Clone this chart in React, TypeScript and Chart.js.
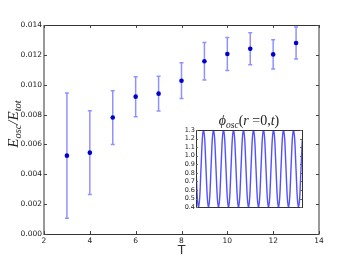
import React, { useEffect, useRef } from "react";
import { Chart, registerables } from "chart.js";
Chart.register(...registerables);

const T = [3, 4, 5, 6, 7, 8, 9, 10, 11, 12, 13];
const ratio = [0.00525, 0.00545, 0.0078, 0.0092, 0.0094, 0.01027, 0.01157, 0.01206, 0.01241, 0.01203, 0.01279];
const ratioErr = [0.0042, 0.0028, 0.0018, 0.00134, 0.00116, 0.0012, 0.00125, 0.0011, 0.00107, 0.00098, 0.00107];
const xTicks = [2, 4, 6, 8, 10, 12, 14];
const yTicks = [0, 0.002, 0.004, 0.006, 0.008, 0.01, 0.012, 0.014];

const phiT = [
  0, 0.125, 0.25, 0.375, 0.5, 0.625, 0.75, 0.875,
  1, 1.125, 1.25, 1.375, 1.5, 1.625, 1.75, 1.875,
  2, 2.125, 2.25, 2.375, 2.5, 2.625, 2.75, 2.875,
  3, 3.125, 3.25, 3.375, 3.5, 3.625, 3.75, 3.875,
  4, 4.125, 4.25, 4.375, 4.5, 4.625, 4.75, 4.875,
  5, 5.125, 5.25, 5.375, 5.5, 5.625, 5.75, 5.875,
  6, 6.125, 6.25, 6.375, 6.5, 6.625, 6.75, 6.875,
  7, 7.125, 7.25, 7.375, 7.5, 7.625, 7.75, 7.875,
  8, 8.125, 8.25, 8.375, 8.5, 8.625, 8.75, 8.875,
  9, 9.125, 9.25, 9.375, 9.5, 9.625, 9.75, 9.875,
  10, 10.125, 10.25, 10.375, 10.5, 10.625,
];
const phiV = [
  0.85, 0.52, 0.39, 0.52, 0.85, 1.18, 1.31, 1.18,
  0.85, 0.52, 0.39, 0.52, 0.85, 1.18, 1.31, 1.18,
  0.85, 0.52, 0.39, 0.52, 0.85, 1.18, 1.31, 1.18,
  0.85, 0.52, 0.39, 0.52, 0.85, 1.18, 1.31, 1.18,
  0.85, 0.52, 0.39, 0.52, 0.85, 1.18, 1.31, 1.18,
  0.85, 0.52, 0.39, 0.52, 0.85, 1.18, 1.31, 1.18,
  0.85, 0.52, 0.39, 0.52, 0.85, 1.18, 1.31, 1.18,
  0.85, 0.52, 0.39, 0.52, 0.85, 1.18, 1.31, 1.18,
  0.85, 0.52, 0.39, 0.52, 0.85, 1.18, 1.31, 1.18,
  0.85, 0.52, 0.39, 0.52, 0.85, 1.18, 1.31, 1.18,
  0.85, 0.52, 0.39, 0.52, 0.85, 1.18,
];
const insetTicks = [0.4, 0.5, 0.6, 0.7, 0.8, 0.9, 1.0, 1.1, 1.2, 1.3];

type Part = { t: string; size: number; italic?: boolean; dy?: number };
const SERIF = '"Liberation Serif", "DejaVu Serif", serif';

function drawParts(ctx: CanvasRenderingContext2D, parts: Part[], cx: number, baseline: number) {
  let total = 0;
  const widths = parts.map((p) => {
    ctx.font = `${p.italic ? "italic " : ""}${p.size}px ${SERIF}`;
    const w = ctx.measureText(p.t).width;
    total += w;
    return w;
  });
  let x = cx - total / 2;
  ctx.textAlign = "left";
  ctx.textBaseline = "alphabetic";
  parts.forEach((p, i) => {
    ctx.font = `${p.italic ? "italic " : ""}${p.size}px ${SERIF}`;
    ctx.fillText(p.t, x, baseline + (p.dy || 0));
    x += widths[i];
  });
}

const mainPlugin = {
  id: "mainDeco",
  beforeDatasetsDraw(chart: any) {
    const ctx = chart.ctx;
    const xs = chart.scales.x;
    const ys = chart.scales.y;
    ctx.save();
    ctx.strokeStyle = "rgba(110,110,255,0.75)";
    ctx.lineWidth = 1.5;
    T.forEach((t, i) => {
      const px = xs.getPixelForValue(t);
      const top = ys.getPixelForValue(ratio[i] + ratioErr[i]);
      const bot = ys.getPixelForValue(ratio[i] - ratioErr[i]);
      ctx.beginPath();
      ctx.moveTo(px, top);
      ctx.lineTo(px, bot);
      ctx.moveTo(px - 2, top);
      ctx.lineTo(px + 2, top);
      ctx.moveTo(px - 2, bot);
      ctx.lineTo(px + 2, bot);
      ctx.stroke();
    });
    ctx.restore();
  },
  afterDraw(chart: any) {
    const ctx = chart.ctx;
    const a = chart.chartArea;
    const xs = chart.scales.x;
    const ys = chart.scales.y;
    ctx.save();
    ctx.strokeStyle = "#333";
    ctx.lineWidth = 1;
    ctx.beginPath();
    ctx.moveTo(a.left, a.top + 0.5);
    ctx.lineTo(a.right, a.top + 0.5);
    ctx.moveTo(a.left, a.bottom + 0.5);
    ctx.lineTo(a.right, a.bottom + 0.5);
    ctx.stroke();
    ctx.strokeStyle = "#999";
    ctx.lineWidth = 2;
    ctx.beginPath();
    ctx.moveTo(a.left, a.top);
    ctx.lineTo(a.left, a.bottom + 1);
    ctx.moveTo(a.right, a.top);
    ctx.lineTo(a.right, a.bottom + 1);
    ctx.stroke();
    ctx.strokeStyle = "#444";
    ctx.lineWidth = 1;
    ctx.beginPath();
    xTicks.forEach((v) => {
      const px = Math.round(xs.getPixelForValue(v)) + 0.5;
      ctx.moveTo(px, a.bottom);
      ctx.lineTo(px, a.bottom - 3);
      ctx.moveTo(px, a.top);
      ctx.lineTo(px, a.top + 3);
    });
    yTicks.forEach((v) => {
      const py = Math.round(ys.getPixelForValue(v)) + 0.5;
      ctx.moveTo(a.left, py);
      ctx.lineTo(a.left + 3, py);
      ctx.moveTo(a.right, py);
      ctx.lineTo(a.right - 3, py);
    });
    ctx.stroke();
    ctx.fillStyle = "#333";
    ctx.font = '12.5px "DejaVu Sans", sans-serif';
    ctx.textAlign = "center";
    ctx.textBaseline = "alphabetic";
    ctx.fillText("T", (a.left + a.right) / 2, 254);
    ctx.translate(13, 124);
    ctx.rotate(-Math.PI / 2);
    ctx.fillStyle = "#222";
    drawParts(
      ctx,
      [
        { t: "E", size: 15, italic: true },
        { t: "osc", size: 10.5, italic: true, dy: 3 },
        { t: "/", size: 15, italic: true },
        { t: "E", size: 15, italic: true },
        { t: "tot", size: 10.5, italic: true, dy: 3 },
      ],
      0,
      5
    );
    ctx.restore();
  },
};

const insetPlugin = {
  id: "insetDeco",
  afterDraw(chart: any) {
    const ctx = chart.ctx;
    const a = chart.chartArea;
    const ys = chart.scales.y;
    ctx.save();
    ctx.strokeStyle = "#333";
    ctx.lineWidth = 1;
    ctx.strokeRect(Math.round(a.left) + 0.5, Math.round(a.top) + 0.5, Math.round(a.right - a.left), Math.round(a.bottom - a.top));
    ctx.strokeStyle = "#666";
    ctx.beginPath();
    insetTicks.forEach((v) => {
      const py = Math.round(ys.getPixelForValue(v)) + 0.5;
      ctx.moveTo(a.left, py);
      ctx.lineTo(a.left + 2, py);
      ctx.moveTo(a.right, py);
      ctx.lineTo(a.right - 2, py);
    });
    ctx.stroke();
    ctx.fillStyle = "#222";
    drawParts(
      ctx,
      [
        { t: "\u03d5", size: 14, italic: true },
        { t: "osc", size: 9.5, italic: true, dy: 3 },
        { t: "(", size: 14 },
        { t: "r", size: 14, italic: true },
        { t: " =", size: 14 },
        { t: "0,", size: 14 },
        { t: "t", size: 14, italic: true },
        { t: ")", size: 14 },
      ],
      (a.left + a.right) / 2,
      a.top - 5
    );
    ctx.restore();
  },
};

export default function App() {
  const mainRef = useRef<HTMLCanvasElement>(null);
  const insetRef = useRef<HTMLCanvasElement>(null);

  useEffect(() => {
    const tickFont = { size: 7.5, family: '"DejaVu Sans", sans-serif' };
    const main = new Chart(mainRef.current!, {
      type: "scatter",
      data: {
        datasets: [
          {
            data: T.map((t, i) => ({ x: t, y: ratio[i] })),
            pointRadius: 2.3,
            pointBorderWidth: 0,
            backgroundColor: "#0000cc",
            borderColor: "#0000cc",
          },
        ],
      },
      options: {
        animation: false,
        responsive: false,
        layout: { padding: { left: 0, right: 36, top: 25, bottom: 0 } },
        plugins: { legend: { display: false }, tooltip: { enabled: false } },
        scales: {
          x: {
            type: "linear",
            min: 2,
            max: 14,
            afterBuildTicks: (s: any) => {
              s.ticks = xTicks.map((v) => ({ value: v }));
            },
            grid: { display: false, drawTicks: false },
            border: { display: false },
            ticks: { font: tickFont, color: "#222", padding: 3, autoSkip: false, maxRotation: 0 },
            afterFit: (s: any) => {
              s.height = 27;
            },
          },
          y: {
            min: 0,
            max: 0.014,
            afterBuildTicks: (s: any) => {
              s.ticks = yTicks.map((v) => ({ value: v }));
            },
            grid: { display: false, drawTicks: false },
            border: { display: false },
            ticks: {
              font: tickFont,
              color: "#222",
              padding: 2,
              autoSkip: false,
              callback: (v: any) => Number(v).toFixed(3),
            },
            afterFit: (s: any) => {
              s.width = 44;
            },
          },
        },
      },
      plugins: [mainPlugin],
    });

    const inset = new Chart(insetRef.current!, {
      type: "line",
      data: {
        datasets: [
          {
            data: phiT.map((t, i) => ({ x: t, y: phiV[i] })),
            borderColor: "rgba(50,50,255,0.85)",
            borderWidth: 1.4,
            pointRadius: 0,
            cubicInterpolationMode: "monotone",
            clip: 0,
          } as any,
        ],
      },
      options: {
        animation: false,
        responsive: false,
        layout: { padding: { left: 0, right: 8, top: 26, bottom: 4 } },
        plugins: { legend: { display: false }, tooltip: { enabled: false } },
        scales: {
          x: { type: "linear", min: 0, max: 10.6, display: false },
          y: {
            min: 0.4,
            max: 1.3,
            afterBuildTicks: (s: any) => {
              s.ticks = insetTicks.map((v) => ({ value: v }));
            },
            grid: { display: false, drawTicks: false },
            border: { display: false },
            ticks: {
              font: { size: 6.5, family: '"DejaVu Sans", sans-serif' },
              color: "#222",
              padding: 1,
              autoSkip: false,
              callback: (v: any) => Number(v).toFixed(1),
            },
            afterFit: (s: any) => {
              s.width = 26;
            },
          },
        },
      },
      plugins: [insetPlugin],
    });

    return () => {
      main.destroy();
      inset.destroy();
    };
  }, []);

  return (
    <div style={{ position: "absolute", left: 0, top: 0, width: 355, height: 261, background: "#fff" }}>
      <canvas ref={mainRef} width={355} height={261} style={{ position: "absolute", left: 0, top: 0 }} />
      <canvas
        ref={insetRef}
        width={140}
        height={108}
        style={{ position: "absolute", left: 170, top: 104, background: "#fff" }}
      />
    </div>
  );
}
